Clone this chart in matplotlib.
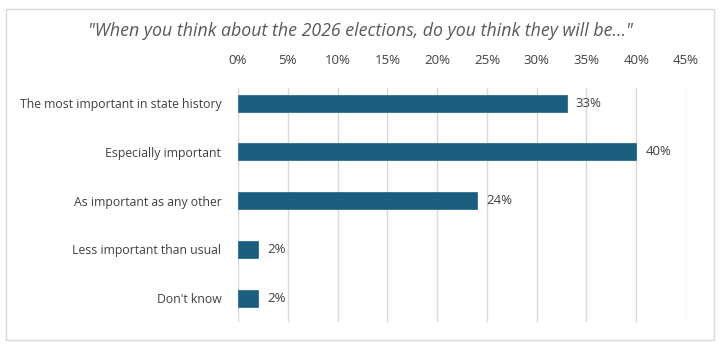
import matplotlib
matplotlib.use("Agg")
import matplotlib.pyplot as plt
from matplotlib.patches import Rectangle
from matplotlib.ticker import MultipleLocator, FuncFormatter

plt.rcParams['font.family'] = ['Open Sans', 'DejaVu Sans']

categories = [
    "The most important in state history",
    "Especially important",
    "As important as any other",
    "Less important than usual",
    "Don't know",
]
values = [33, 40, 24, 2, 2]
title = "\"When you think about the 2026 elections, do you think they will be...\""

bar_color = "#1C5E80"
text_color = "#404040"
grid_color = "#D9D9D9"

fig = plt.figure(figsize=(7.2, 3.47), dpi=100)
fig.patches.append(Rectangle((0.008, 0.02), 0.984, 0.955, transform=fig.transFigure,
                             fill=False, edgecolor="#D9D9D9", linewidth=1.0))

ax = fig.add_axes([0.3306, 0.072, 0.6222, 0.674])
pos = list(range(len(categories)))
ax.barh(pos, values, height=0.35, color=bar_color, edgecolor="#2A6F93", linewidth=0.6, zorder=3)

for p, v in zip(pos, values):
    ax.text(v + 0.9, p, f"{v}%", va="center", ha="left", fontsize=9.5, color=text_color)

ax.set_xlim(0, 45)
ax.set_ylim(4.49, -0.31)
ax.xaxis.set_major_locator(MultipleLocator(5))
ax.xaxis.set_major_formatter(FuncFormatter(lambda x, _: f"{int(round(x))}%"))
ax.xaxis.tick_top()
ax.tick_params(axis="x", length=0, pad=15, labelsize=9.5, labelcolor=text_color)
ax.set_yticks(pos)
ax.set_yticklabels(categories)
ax.tick_params(axis="y", length=0, pad=12, labelsize=8.8, labelcolor=text_color)
ax.grid(axis="x", color=grid_color, linewidth=1.0, zorder=0)
for s in ax.spines.values():
    s.set_visible(False)

fig.text(0.5, 0.912, title, ha="center", va="center", fontsize=12.8, style="italic",
         color="#595959")

fig.savefig("out.png", dpi=100)
